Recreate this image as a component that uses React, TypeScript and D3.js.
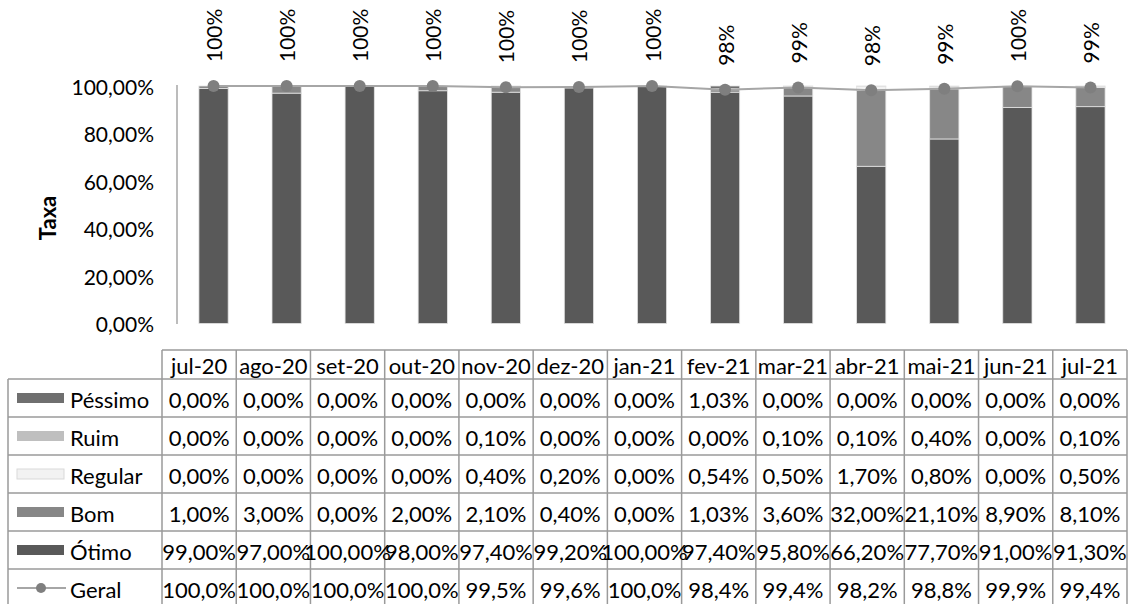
import React from 'react';
import * as d3 from 'd3';

const months = ['jul-20', 'ago-20', 'set-20', 'out-20', 'nov-20', 'dez-20', 'jan-21', 'fev-21', 'mar-21', 'abr-21', 'mai-21', 'jun-21', 'jul-21'];
const pessimo = [0, 0, 0, 0, 0, 0, 0, 1.03, 0, 0, 0, 0, 0];
const ruim = [0, 0, 0, 0, 0.1, 0, 0, 0, 0.1, 0.1, 0.4, 0, 0.1];
const regular = [0, 0, 0, 0, 0.4, 0.2, 0, 0.54, 0.5, 1.7, 0.8, 0, 0.5];
const bom = [1, 3, 0, 2, 2.1, 0.4, 0, 1.03, 3.6, 32, 21.1, 8.9, 8.1];
const otimo = [99, 97, 100, 98, 97.4, 99.2, 100, 97.4, 95.8, 66.2, 77.7, 91, 91.3];
const geral = [100, 100, 100, 100, 99.5, 99.6, 100, 98.4, 99.4, 98.2, 98.8, 99.9, 99.4];
const yTicks = [0, 20, 40, 60, 80, 100];

// stack order, bottom to top
const series = [
  { key: 'otimo', name: 'Ótimo', values: otimo, color: '#595959' },
  { key: 'bom', name: 'Bom', values: bom, color: '#878787' },
  { key: 'regular', name: 'Regular', values: regular, color: '#f2f2f2' },
  { key: 'ruim', name: 'Ruim', values: ruim, color: '#bfbfbf' },
  { key: 'pessimo', name: 'Péssimo', values: pessimo, color: '#6f6f6f' },
];
// table row order
const tableOrder = ['pessimo', 'ruim', 'regular', 'bom', 'otimo'];

const FONT = 'Lato, sans-serif';
const W = 1132;
const H = 604;

const comma = (s: string) => s.replace('.', ',');
const fmt2 = (v: number) => comma(d3.format('.2f')(v)) + '%';
const fmt1 = (v: number) => comma(d3.format('.1f')(v)) + '%';

const App = () => {
  const x = d3.scaleBand<string>().domain(months).range([177, 1127]).paddingInner(0.6).paddingOuter(0.3);
  const col = d3.scaleBand<string>().domain(months).range([162, 1127]);
  const y = d3.scaleLinear().domain([0, 100]).range([323.5, 86]);

  const rows = months.map((m, i) => {
    const r: any = { month: m };
    series.forEach(s => (r[s.key] = s.values[i]));
    return r;
  });
  const stacked = d3.stack().keys(series.map(s => s.key))(rows);

  const line = d3
    .line<number>()
    .x((_, i) => x(months[i])! + x.bandwidth() / 2)
    .y(d => y(d));

  // table geometry
  const headTop = 350;
  const headBottom = 379;
  const rowH = 38;
  const legendLeft = 8;
  const tableRows = [...tableOrder.map(k => series.find(s => s.key === k)!), null];
  const tableBottom = headBottom + rowH * tableRows.length;
  const lineColor = '#9a9a9a';
  const fs = 22;

  return (
    <svg width={W} height={H} style={{ position: 'absolute', left: 0, top: 0, display: 'block' }} fontFamily={FONT}>
      <rect width={W} height={H} fill="#fff" />

      {/* y axis */}
      <line x1={177} x2={177} y1={85} y2={324} stroke="#a6a6a6" strokeWidth={1.5} />
      {yTicks.map(t => (
        <text key={t} x={154} y={y(t)} textAnchor="end" dominantBaseline="central" fontSize={21} fill="#000">
          {comma(d3.format('.2f')(t))}%
        </text>
      ))}
      <text
        x={47}
        y={218}
        transform="rotate(-90, 47, 218)"
        textAnchor="middle"
        dominantBaseline="central"
        fontSize={22}
        fontWeight="bold"
        fill="#000"
      >
        Taxa
      </text>

      {/* bars */}
      {stacked.map((layer, li) => (
        <g key={layer.key} fill={series[li].color}>
          {layer.map((d, i) => {
            const h = y(d[0]) - y(d[1]);
            if (h <= 0) return null;
            return (
              <rect
                key={i}
                x={x(months[i])}
                y={y(d[1])}
                width={x.bandwidth()}
                height={h}
                stroke="#e3e3e3"
                strokeWidth={0.8}
              />
            );
          })}
        </g>
      ))}

      {/* Geral line */}
      <path d={line(geral)!} fill="none" stroke="#a6a6a6" strokeWidth={2} />
      {geral.map((v, i) => {
        const cx = x(months[i])! + x.bandwidth() / 2;
        const ly = y(v) - 24;
        return (
          <g key={i}>
            <circle cx={cx} cy={y(v)} r={6} fill="#7f7f7f" />
            <text
              x={cx}
              y={ly}
              transform={`rotate(-90, ${cx}, ${ly})`}
              textAnchor="start"
              dominantBaseline="central"
              fontSize={21}
              fill="#000"
            >
              {Math.round(v)}%
            </text>
          </g>
        );
      })}

      {/* data table */}
      <g stroke={lineColor} strokeWidth={1.5} fill="none">
        <line x1={162} x2={1127} y1={headTop} y2={headTop} />
        <line x1={legendLeft} x2={1127} y1={headBottom} y2={headBottom} />
        {tableRows.map((_, ri) => (
          <line key={ri} x1={legendLeft} x2={1127} y1={headBottom + rowH * (ri + 1)} y2={headBottom + rowH * (ri + 1)} />
        ))}
        <line x1={legendLeft} x2={legendLeft} y1={headBottom} y2={tableBottom} />
        {months.map(m => (
          <line key={m} x1={col(m)} x2={col(m)} y1={headTop} y2={tableBottom} />
        ))}
        <line x1={1127} x2={1127} y1={headTop} y2={tableBottom} />
      </g>
      {months.map(m => (
        <text
          key={m}
          x={col(m)! + col.bandwidth() / 2}
          y={(headTop + headBottom) / 2 + 1}
          textAnchor="middle"
          dominantBaseline="central"
          fontSize={fs}
          fill="#000"
        >
          {m}
        </text>
      ))}
      {tableRows.map((s, ri) => {
        const cy = headBottom + rowH * ri + rowH / 2;
        const vals = s ? s.values : geral;
        const f = s ? fmt2 : fmt1;
        return (
          <g key={ri}>
            {s ? (
              <rect
                x={17}
                y={cy - 5}
                width={47}
                height={10}
                fill={s.color}
                stroke={s.key === 'regular' ? '#d9d9d9' : 'none'}
                strokeWidth={1}
              />
            ) : (
              <g>
                <line x1={17} x2={66} y1={cy} y2={cy} stroke="#a6a6a6" strokeWidth={2} />
                <circle cx={41} cy={cy} r={5} fill="#7f7f7f" />
              </g>
            )}
            <text x={70} y={cy + 1} dominantBaseline="central" fontSize={fs} fill="#000">
              {s ? s.name : 'Geral'}
            </text>
            {vals.map((v, i) => (
              <text
                key={i}
                x={col(months[i])! + col.bandwidth() / 2}
                y={cy + 1}
                textAnchor="middle"
                dominantBaseline="central"
                fontSize={fs}
                fill="#000"
              >
                {f(v)}
              </text>
            ))}
          </g>
        );
      })}
    </svg>
  );
};

export default App;
